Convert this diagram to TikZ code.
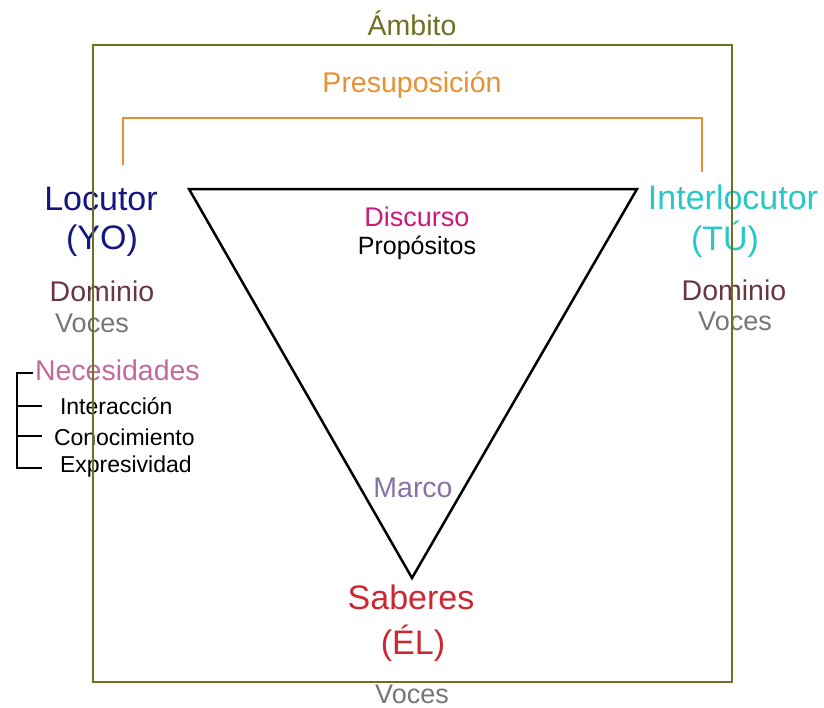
\documentclass[tikz,border=0pt]{standalone}
\usepackage{fontspec}
\setmainfont{Liberation Sans}
\definecolor{olive2}{RGB}{112,112,36}
\definecolor{orange2}{RGB}{234,144,52}
\definecolor{navy2}{RGB}{22,22,128}
\definecolor{cyan2}{RGB}{40,200,200}
\definecolor{maroon2}{RGB}{105,55,65}
\definecolor{gray2}{RGB}{118,118,118}
\definecolor{pink2}{RGB}{195,105,155}
\definecolor{magenta2}{RGB}{205,25,125}
\definecolor{purple2}{RGB}{135,115,165}
\definecolor{red2}{RGB}{205,40,50}
\begin{document}
\begin{tikzpicture}[x=1pt,y=-1pt,
  lbl/.style={inner sep=0pt,outer sep=0pt,anchor=base},
  big/.style={lbl,font=\fontsize{34}{38}\selectfont},
  mid/.style={lbl,font=\fontsize{28.5}{32}\selectfont},
  voc/.style={lbl,font=\fontsize{27}{31}\selectfont},
  sml/.style={lbl,anchor=base west,font=\fontsize{23}{26}\selectfont},
  boxline/.style={draw=olive2,line width=2.5pt},
  presline/.style={draw=orange2,line width=2.5pt},
  triline/.style={draw=black,line width=2.5pt,line join=miter},
  brkline/.style={draw=black,line width=2.5pt}]
\useasboundingbox (0,0) rectangle (824,707);
% labels
\node[mid,text=olive2] (ambito) at (412,35) {Ámbito};
\node[mid,text=orange2] (presup) at (412,92) {Presuposición};
\node[big,text=navy2] (locutor) at (101,210) {Locutor};
\node[big,text=navy2] (yo) at (102,249) {(YO)};
\node[big,text=cyan2] (interloc) at (733,209) {Interlocutor};
\node[big,text=cyan2] (tu) at (725,250) {(TÚ)};
\node[mid,text=maroon2] (domL) at (102,301) {Dominio};
\node[voc,text=gray2] (vocL) at (92,332) {Voces};
\node[mid,text=maroon2] (domR) at (734,300) {Dominio};
\node[voc,text=gray2] (vocR) at (735,330) {Voces};
\node[mid,text=pink2,anchor=base west] (necesidades) at (35,380) {Necesidades};
\node[sml] (interaccion) at (60,414) {Interacción};
\node[sml] (conocimiento) at (54,445) {Conocimiento};
\node[sml] (expresividad) at (60,472) {Expresividad};
\node[lbl,font=\fontsize{27}{31}\selectfont,text=magenta2] (discurso) at (417,226) {Discurso};
\node[lbl,font=\fontsize{25}{29}\selectfont] (propositos) at (417,254) {Propósitos};
\node[mid,text=purple2] (marco) at (413,497) {Marco};
\node[big,text=red2] (saberes) at (411,609) {Saberes};
\node[big,text=red2] (el) at (413,654) {(ÉL)};
\node[voc,text=gray2] (vocB) at (412,703) {Voces};
% triangle
\coordinate (tA) at (189,189);
\coordinate (tB) at (637,189);
\coordinate (tC) at (412,578);
\draw[triline] (tA) -- (tB) -- (tC) -- cycle;
% presuposicion bracket
\coordinate (pL) at (123,165);
\coordinate (pLt) at (123,118);
\coordinate (pRt) at (702,118);
\coordinate (pR) at (702,172);
\draw[presline] (pL) -- (pLt) -- (pRt) -- (pR);
% necesidades bracket
\coordinate (nTop) at (33,373);
\coordinate (nV1) at (17,373);
\coordinate (nV2) at (17,468);
\coordinate (nB) at (42,468);
\coordinate (nI0) at (17,406);
\coordinate (nI1) at (42,406);
\coordinate (nC0) at (17,436);
\coordinate (nC1) at (42,436);
\draw[brkline] (nTop) -- (nV1) -- (nV2) -- (nB);
\draw[brkline] (nI0) -- (nI1);
\draw[brkline] (nC0) -- (nC1);
% ambito box
\coordinate (b1) at (93,45);
\coordinate (b2) at (732,682);
\draw[boxline] (b1) rectangle (b2);
\end{tikzpicture}
\end{document}
